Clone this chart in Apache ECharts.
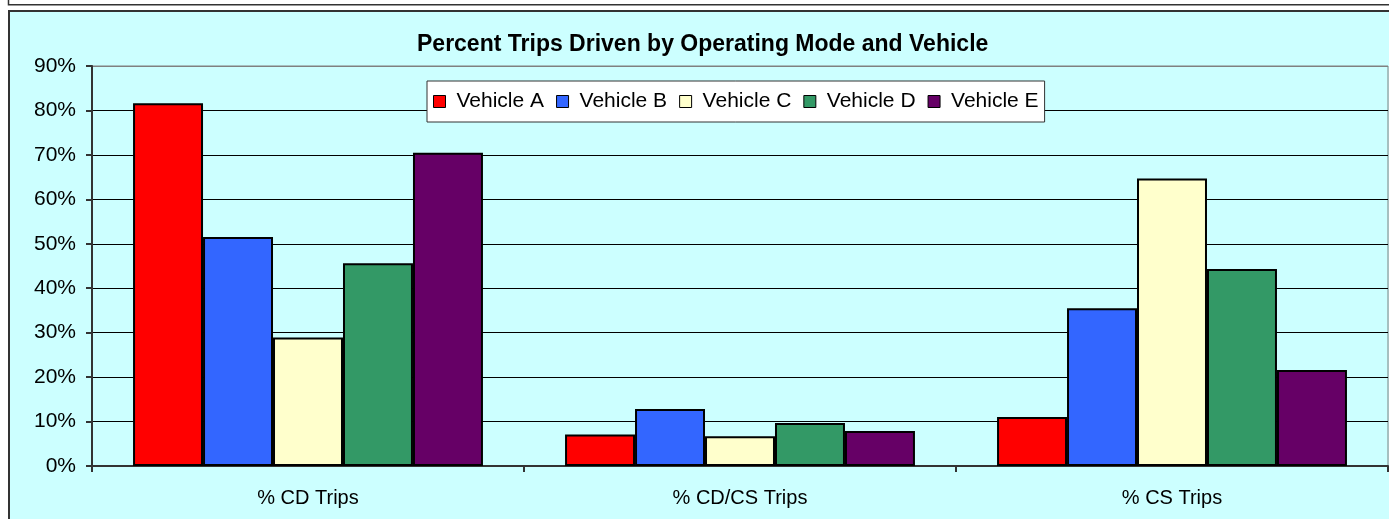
<!DOCTYPE html>
<html><head><meta charset="utf-8">
<script src="https://cdn.jsdelivr.net/npm/echarts@6/dist/echarts.min.js"></script>
<style>html,body{margin:0;padding:0;background:#fff;}#c{width:1389px;height:519px;}</style>
</head><body><div id="c"></div>
<script>
const categories = ['% CD Trips', '% CD/CS Trips', '% CS Trips'];
const seriesNames = ['Vehicle A', 'Vehicle B', 'Vehicle C', 'Vehicle D', 'Vehicle E'];
const vehicleA = [81.6, 7.1, 11.0];
const vehicleB = [51.5, 12.8, 35.5];
const vehicleC = [28.9, 6.7, 64.7];
const vehicleD = [45.6, 9.7, 44.3];
const vehicleE = [70.5, 7.9, 21.6];
const colors = ['#ff0000', '#3366ff', '#ffffcc', '#339966', '#660066'];
const values = [vehicleA, vehicleB, vehicleC, vehicleD, vehicleE];
const font = "'Liberation Sans', Arial, sans-serif";

const chart = echarts.init(document.getElementById('c'), null, {renderer: 'canvas'});
const splitColors = ['#000','#000','#000','#000','#000','#000','#000','#000','#000','#808080'];
chart.setOption({
  backgroundColor: '#ffffff',
  animation: false,
  textStyle: {fontFamily: font, color: '#000'},
  graphic: [
    {type: 'rect', z: -100, shape: {x: 8.5, y: -10, width: 1400, height: 14.8}, style: {fill: '#fff', stroke: '#333', lineWidth: 1.5}},
    {type: 'rect', z: -100, shape: {x: 9, y: 11, width: 1400, height: 530}, style: {fill: '#ccffff', stroke: '#333', lineWidth: 2}}
  ],
  title: {
    text: 'Percent Trips Driven by Operating Mode and Vehicle',
    left: 412, top: 28,
    textStyle: {fontFamily: font, fontSize: 23, fontWeight: 'bold', color: '#000'}
  },
  legend: {
    data: seriesNames,
    left: 427, top: 81,
    padding: [10, 6, 10, 6],
    itemGap: 12,
    itemWidth: 12, itemHeight: 12,
    icon: 'rect',
    backgroundColor: '#fff',
    borderColor: '#333', borderWidth: 1,
    itemStyle: {borderColor: '#000', borderWidth: 1},
    textStyle: {fontFamily: font, fontSize: 21, color: '#000', padding: [0, 0, 0, 6]}
  },
  grid: {left: 92, right: 1, top: 66, bottom: 53, show: true, borderColor: '#808080', borderWidth: 1, backgroundColor: 'transparent'},
  xAxis: {
    type: 'category', data: categories,
    axisLine: {lineStyle: {color: '#333', width: 2}},
    axisTick: {show: true, length: 6, lineStyle: {color: '#333', width: 2}},
    axisLabel: {fontFamily: font, fontSize: 20, color: '#000', margin: 22}
  },
  yAxis: {
    type: 'value', min: 0, max: 90, interval: 10,
    axisLine: {show: true, lineStyle: {color: '#333', width: 2}},
    axisTick: {show: true, length: 6, lineStyle: {color: '#333', width: 2}},
    axisLabel: {fontFamily: font, fontSize: 21, color: '#000', margin: 16, formatter: '{value}%'},
    splitLine: {show: true, lineStyle: {color: splitColors, width: 1}}
  },
  series: seriesNames.map((n, i) => ({
    name: n, type: 'bar', data: values[i],
    barGap: '0%', barCategoryGap: '19%',
    itemStyle: {color: colors[i], borderColor: '#000', borderWidth: 2}
  }))
});
</script></body></html>
